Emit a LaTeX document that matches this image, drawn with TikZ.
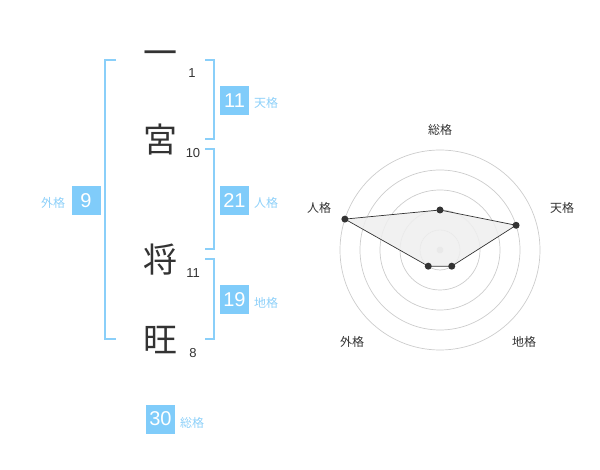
\documentclass[tikz,border=0pt]{standalone}
\usepackage{fontspec}
\setmainfont{Liberation Sans}
\newfontfamily\cjk{Noto Sans CJK JP}
\begin{document}
\begin{tikzpicture}[x=1pt,y=-1pt,
  bluec/.style={line width=2pt},
  kanji/.style={inner sep=0pt,text=textdark,font=\cjk\fontsize{34}{34}\selectfont},
  stroke/.style={inner sep=0pt,text=textdark,font=\fontsize{13}{13}\selectfont},
  numbox/.style={fill=boxblue,text=white,minimum size=29pt,inner sep=0pt,font=\fontsize{20}{20}\selectfont},
  kaku/.style={inner sep=0pt,text=labblue,font=\cjk\fontsize{12}{12}\selectfont},
  axlab/.style={inner sep=0pt,text=textdark,font=\cjk\fontsize{12}{12}\selectfont},
  ring/.style={draw=ringgray,line width=0.7pt},
  dot/.style={circle,fill=textdark,inner sep=0pt,minimum size=7pt}]
\definecolor{textdark}{HTML}{333333}
\definecolor{boxblue}{HTML}{80CCFA}
\definecolor{lineblue}{HTML}{8ACFF9}
\definecolor{labblue}{HTML}{8DD0F9}
\definecolor{ringgray}{HTML}{CCCCCC}
\definecolor{polyfill}{HTML}{EFEFEF}
\useasboundingbox (0,0) rectangle (600,470);
% characters
\node[kanji] (c1) at (160,58) {一};
\node[kanji] (c2) at (160,140) {宮};
\node[kanji] (c3) at (160,260) {将};
\node[kanji] (c4) at (160,340) {旺};
\node[stroke] (n1) at (192,73) {1};
\node[stroke] (n2) at (193,153) {10};
\node[stroke] (n3) at (193,273) {11};
\node[stroke] (n4) at (193,353) {8};
% brackets
\draw[lineblue,bluec] (116,60) -- (105,60) -- (105,339) -- (116,339);
\draw[lineblue,bluec] (205,60) -- (214,60) -- (214,139) -- (205,139);
\draw[lineblue,bluec] (205,149) -- (214,149) -- (214,249) -- (205,249);
\draw[lineblue,bluec] (205,259) -- (214,259) -- (214,339) -- (205,339);
% boxes
\node[numbox] (ten) at (234.5,100.5) {11};
\node[kaku] (tenl) at (266,103) {天格};
\node[numbox] (jin) at (234.5,200.5) {21};
\node[kaku] (jinl) at (266,203) {人格};
\node[numbox] (chi) at (234.5,300) {19};
\node[kaku] (chil) at (266,303) {地格};
\node[numbox] (gai) at (86,200.5) {9};
\node[kaku] (gail) at (53,203) {外格};
\node[numbox] (sou) at (160.5,419) {30};
\node[kaku] (soul) at (192,423) {総格};
% radar
\coordinate (c) at (440,250);
\foreach \r in {20,40,60,80,100} \draw[ring] (c) circle (\r);
\coordinate (p1) at ([shift={(440,250)}]-90:40);
\coordinate (p2) at ([shift={(440,250)}]-18:80);
\coordinate (p3) at ([shift={(440,250)}]54:20);
\coordinate (p4) at ([shift={(440,250)}]126:20);
\coordinate (p5) at ([shift={(440,250)}]198:100);
\fill[ringgray] (c) circle (3.5);
\draw[textdark,fill=polyfill,fill opacity=0.85,line width=0.7pt] (p1) -- (p2) -- (p3) -- (p4) -- (p5) -- cycle;
\foreach \p in {p1,p2,p3,p4,p5} \node[dot] at (\p) {};
\node[axlab] (a1) at (440,130) {総格};
\node[axlab] (a2) at (562,208) {天格};
\node[axlab] (a3) at (524,342) {地格};
\node[axlab] (a4) at (352,342) {外格};
\node[axlab] (a5) at (319,208) {人格};
\end{tikzpicture}
\end{document}
